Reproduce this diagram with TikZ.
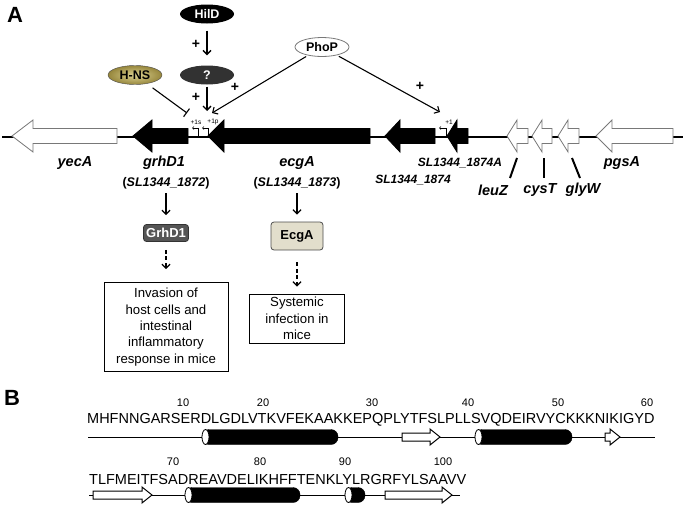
\documentclass[tikz,border=0pt]{standalone}
\usepackage{fontspec}
\setmainfont{Liberation Sans}
\usetikzlibrary{arrows.meta,shapes.geometric}
\definecolor{hnsgold}{RGB}{150,134,60}
\definecolor{hnslight}{RGB}{220,210,145}
\definecolor{qgray}{RGB}{50,50,50}
\definecolor{grhgray}{RGB}{85,85,85}
\definecolor{ecgbeige}{RGB}{226,222,204}
\definecolor{outgray}{RGB}{120,120,120}
\begin{document}
\begin{tikzpicture}[x=1pt,y=-1pt,
    >={Straight Barb[length=4pt,width=8pt]},
    reg/.style={ellipse,minimum width=54pt,minimum height=19pt,inner sep=0pt,font=\bfseries\fontsize{12.5}{13}\selectfont},
    gene/.style={font=\bfseries\itshape\fontsize{14.5}{15}\selectfont},
    locus/.style={font=\bfseries\fontsize{12.5}{13}\selectfont},
    effect/.style={draw,line width=0.8pt,align=center,font=\fontsize{13.2}{16.3}\selectfont},
    prot/.style={draw,rounded corners=3pt,line width=0.8pt,font=\bfseries\fontsize{13}{13}\selectfont},
    plus/.style={font=\bfseries\fontsize{14}{14}\selectfont},
    tss/.style={font=\fontsize{6.5}{6.5}\selectfont,inner sep=0pt}]
    \useasboundingbox (0,0) rectangle (685,506);
    \node[font=\bfseries\fontsize{22}{22}\selectfont] (lA) at (15,15) {A};
    \node[font=\bfseries\fontsize{22}{22}\selectfont] (lB) at (12,398) {B};
    % chromosome
    \draw[line width=1.8pt] (2,137) -- (683,137);
    \foreach \tip/\base/\tail/\fc/\dc in {12/33/117/white/outgray, 133/152/188/black/black, 208/224/370/black/black, 385/400/435/black/black, 447/457/468/black/black, 507/517/528/white/outgray, 532/542/552/white/outgray, 558/568/579/white/outgray, 596/612/673/white/outgray}
        \draw[fill=\fc,draw=\dc,line width=0.8pt] (\tip,136) -- (\base,120) -- (\base,128.5) -- (\tail,128.5) -- (\tail,143.5) -- (\base,143.5) -- (\base,152) -- cycle;
    % transcription start sites
    \draw[-{Straight Barb[length=1.5pt,width=3pt]},line width=0.6pt] (198,137) -- (198,128) -- (192,128);
    \draw[-{Straight Barb[length=1.5pt,width=3pt]},line width=0.6pt] (208,137) -- (208,128) -- (202,128);
    \draw[-{Straight Barb[length=1.5pt,width=3pt]},line width=0.6pt] (446,137) -- (446,128) -- (439,128);
    \node[tss] (s1s) at (196,122) {+1s};
    \node[tss] (s1p) at (213,122) {+1p};
    \node[tss] (s1) at (449,122) {+1};
    % regulators
    \node[reg,fill=black,text=white] (hild) at (207,14) {HilD};
    \node[reg,fill=qgray,text=white] (unk) at (207,75) {?};
    \node[reg,draw=black!70,inner color=hnslight,outer color=hnsgold] (hns) at (135,75) {H-NS};
    \node[reg,draw=outgray,fill=white,line width=0.8pt] (phop) at (322,47) {PhoP};
    \coordinate (prA) at (207,111);
    \coordinate (prB) at (212,113);
    \coordinate (prC) at (440,112);
    \coordinate (prH) at (187,113);
    \draw[->,line width=1.3pt,shorten <=7pt,shorten >=10pt] (hild) -- (unk) node[midway,left=3pt,plus]{+};
    \draw[->,line width=1.3pt,shorten <=2pt] (unk) -- (prA) node[midway,left=3pt,plus]{+};
    \draw[-{Bar[width=10pt]},line width=1.1pt,shorten <=7pt] (hns) -- (prH);
    \draw[->,line width=1.1pt,shorten <=2pt] (phop) -- (prB);
    \draw[->,line width=1.1pt,shorten <=2pt] (phop) -- (prC);
    \node[plus] (plus3) at (235,87) {+};
    \node[plus] (plus4) at (420,86) {+};
    % gene names
    \node[gene] (yeca) at (75,163) {yecA};
    \node[gene] (grhd) at (164,163) {grhD1};
    \node[locus] (sl72) at (166,183) {(\textit{SL1344\_1872})};
    \node[gene] (ecga) at (297,163) {ecgA};
    \node[locus] (sl73) at (297,183) {(\textit{SL1344\_1873})};
    \node[locus,font=\bfseries\itshape\fontsize{12}{12}\selectfont] (sl74a) at (460,163) {SL1344\_1874A};
    \node[locus,font=\bfseries\itshape\fontsize{12}{12}\selectfont] (sl74) at (413,180) {SL1344\_1874};
    \node[gene] (leuz) at (493,190) {leuZ};
    \node[gene] (cyst) at (540,190) {cysT};
    \node[gene] (glyw) at (583,190) {glyW};
    \node[gene] (pgsa) at (622,163) {pgsA};
    \coordinate (leuzA) at (517,158); \coordinate (leuzB) at (510,178);
    \coordinate (cystA) at (544,158); \coordinate (cystB) at (544,178);
    \coordinate (glywA) at (572,158); \coordinate (glywB) at (580,178);
    \draw[line width=2pt] (leuzA) -- (leuzB);
    \draw[line width=2pt] (cystA) -- (cystB);
    \draw[line width=2pt] (glywA) -- (glywB);
    % products and phenotypes
    \node[prot,fill=grhgray,text=white,draw=black!80,minimum width=45pt,minimum height=17pt,inner sep=1pt] (grhbox) at (166,233) {GrhD1};
    \node[prot,fill=ecgbeige,draw=black!70,minimum width=52pt,minimum height=28pt] (ecgbox) at (297,236) {EcgA};
    \node[effect,minimum width=124pt,minimum height=89pt,inner sep=2pt] (invbox) at (166,327) {Invasion of\\host cells and\\intestinal\\inflammatory\\response in mice};
    \node[effect,minimum width=95pt,minimum height=49pt,inner sep=2pt] (sysbox) at (297,318.5) {Systemic\\infection in\\mice};
    \draw[->,line width=1.3pt,shorten <=1pt,shorten >=9pt] (sl72) -- (grhbox);
    \draw[->,line width=1.3pt,shorten <=1pt,shorten >=7pt] (sl73) -- (ecgbox);
    \draw[->,line width=1.3pt,dashed,dash pattern=on 4pt off 2.5pt,shorten <=8pt,shorten >=13pt] (grhbox) -- (invbox);
    \draw[->,line width=1.3pt,dashed,dash pattern=on 4pt off 2.5pt,shorten <=12pt,shorten >=7pt] (ecgbox) -- (sysbox);
    % panel B: sequence and secondary structure
    \node[anchor=west,inner sep=0pt,font=\fontsize{14.5}{14.5}\selectfont] (seq1) at (87,420) {MHFNNGARSERDLGDLVTKVFEKAAKKEPQPLYTFSLPLLSVQDEIRVYCKKKNIKIGYD};
    \node[anchor=west,inner sep=0pt,font=\fontsize{14.5}{14.5}\selectfont] (seq2) at (89,480) {TLFMEITFSADREAVDELIKHFFTENKLYLRGRFYLSAAVV};
    \foreach \x/\n in {183/10, 263/20, 372/30, 468/40, 558/50, 647/60}
        \node[font=\fontsize{11}{11}\selectfont] (n\n) at (\x,403) {\n};
    \foreach \x/\n in {173/70, 260/80, 345/90, 443/100}
        \node[font=\fontsize{11}{11}\selectfont] (n\n) at (\x,462) {\n};
    \draw[line width=1pt] (88,437) -- (655,437);
    \draw[line width=1pt] (89,495) -- (460,495);
    \foreach \a/\b/\y in {202/338/437, 475/572/437, 185/300/495, 345/365/495} {
        \draw[fill=black,rounded corners=7pt] (\a,\y-7.5) rectangle (\b,\y+7.5);
        \draw[fill=white,line width=0.8pt] (\a+3.5,\y) ellipse (3.5 and 7.5);
    }
    \foreach \a/\b/\y in {402/440/437, 605/620/437, 93/152/495, 385/452/495}
        \draw[fill=white,line width=1pt] (\a,\y-4) -- (\b-10,\y-4) -- (\b-10,\y-8) -- (\b,\y) -- (\b-10,\y+8) -- (\b-10,\y+4) -- (\a,\y+4) -- cycle;
\end{tikzpicture}
\end{document}
